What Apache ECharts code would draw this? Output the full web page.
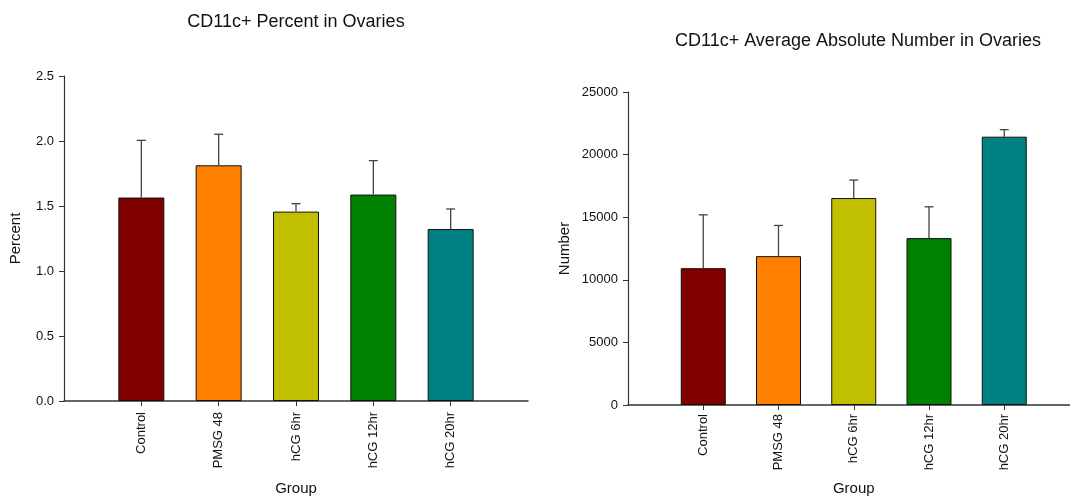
<!DOCTYPE html>
<html><head><meta charset="utf-8">
<script src="https://cdn.jsdelivr.net/npm/echarts@6/dist/echarts.min.js"></script>
<style>html,body{margin:0;padding:0;background:#fff}#c{width:1070px;height:498px}</style>
</head><body><div id="c"></div>
<script>
const categories = ['Control', 'PMSG 48', 'hCG 6hr', 'hCG 12hr', 'hCG 20hr'];
const colors = ['#800000', '#FF8000', '#C0C000', '#008000', '#008080'];
const percentMean = [1.565, 1.813, 1.457, 1.588, 1.323];
const percentUpper = [2.005, 2.052, 1.518, 1.849, 1.477];
const numberMean = [10930, 11890, 16530, 13330, 21430];
const numberUpper = [15190, 14340, 17965, 15830, 21990];
const percentTicks = { min: 0, max: 2.5, interval: 0.5 };
const numberTicks = { min: 0, max: 25000, interval: 5000 };

const padCats = [''].concat(categories, ['']);
const FONT = 'Liberation Sans, Arial, sans-serif';
const inner = (i) => i > 0 && i < padCats.length - 1;

function barData(vals) {
  return padCats.map((c, i) => inner(i) ? { value: vals[i - 1], itemStyle: { color: colors[i - 1] } } : '-');
}
function errData(mean, upper) {
  return categories.map((c, i) => [i + 1, mean[i], upper[i]]);
}
function errRender(params, api) {
  const x = api.value(0);
  const b = api.coord([x, api.value(1)]);
  const t = api.coord([x, api.value(2)]);
  const st = { stroke: '#444', lineWidth: 1.3 };
  return { type: 'group', children: [
    { type: 'line', shape: { x1: b[0], y1: b[1], x2: t[0], y2: t[1] }, style: st },
    { type: 'line', shape: { x1: t[0] - 4.5, y1: t[1], x2: t[0] + 4.5, y2: t[1] }, style: st }
  ]};
}
function xAxis(gi) {
  return {
    type: 'category', gridIndex: gi, data: padCats, boundaryGap: false,
    name: 'Group', nameLocation: 'middle', nameGap: gi === 0 ? 80 : 76,
    nameTextStyle: { fontFamily: FONT, fontSize: 15, color: '#111' },
    axisLine: { lineStyle: { color: '#333', width: 1.5 } },
    axisTick: { interval: (i) => inner(i), length: 5, lineStyle: { color: '#333' } },
    axisLabel: { interval: (i) => inner(i), rotate: 90, margin: gi === 0 ? 11 : 9, fontFamily: FONT, fontSize: 13, color: '#111' },
    splitLine: { show: false }
  };
}
function yAxis(gi, t, name, gap, fmt) {
  return {
    type: 'value', gridIndex: gi, min: t.min, max: t.max, interval: t.interval,
    name: name, nameLocation: 'middle', nameGap: gap,
    nameTextStyle: { fontFamily: FONT, fontSize: 15, color: '#111' },
    axisLine: { show: true, lineStyle: { color: '#333', width: 1.2 } },
    axisTick: { show: true, length: 5, lineStyle: { color: '#333' } },
    axisLabel: { margin: 10, fontFamily: FONT, fontSize: 13, color: '#111', formatter: fmt },
    splitLine: { show: false }
  };
}
const chart = echarts.init(document.getElementById('c'), null, { renderer: 'canvas' });
chart.setOption({
  animation: false,
  title: [
    { text: 'CD11c+ Percent in Ovaries', left: 291, top: 8, textAlign: 'center',
      textStyle: { fontFamily: FONT, fontSize: 18, fontWeight: 'normal', color: '#111' } },
    { text: 'CD11c+ Average Absolute Number in Ovaries', left: 853, top: 27, textAlign: 'center',
      textStyle: { fontFamily: FONT, fontSize: 18, fontWeight: 'normal', color: '#111' } }
  ],
  grid: [
    { left: 64, top: 76, width: 464, height: 325, outerBoundsMode: 'none', containLabel: false },
    { left: 628, top: 92, width: 451.5, height: 313, outerBoundsMode: 'none', containLabel: false }
  ],
  xAxis: [xAxis(0), xAxis(1)],
  yAxis: [
    yAxis(0, percentTicks, 'Percent', 41, (v) => v.toFixed(1)),
    yAxis(1, numberTicks, 'Number', 56, (v) => String(v))
  ],
  series: [
    { type: 'bar', xAxisIndex: 0, yAxisIndex: 0, barWidth: 46, data: barData(percentMean),
      itemStyle: { borderColor: '#111', borderWidth: 1 } },
    { type: 'custom', xAxisIndex: 0, yAxisIndex: 0, renderItem: errRender, data: errData(percentMean, percentUpper), z: 3 },
    { type: 'bar', xAxisIndex: 1, yAxisIndex: 1, barWidth: 45, data: barData(numberMean),
      itemStyle: { borderColor: '#111', borderWidth: 1 } },
    { type: 'custom', xAxisIndex: 1, yAxisIndex: 1, renderItem: errRender, data: errData(numberMean, numberUpper), z: 3 }
  ]
});
</script></body></html>
